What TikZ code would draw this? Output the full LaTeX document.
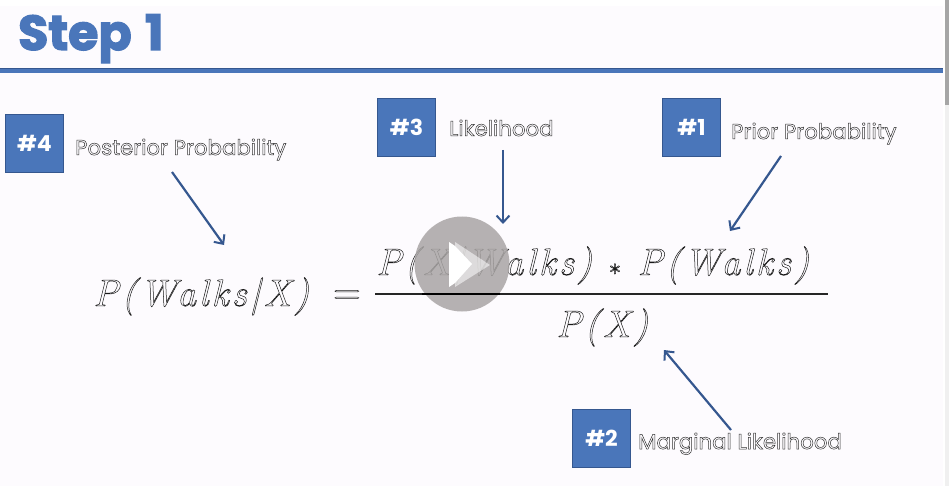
\documentclass[tikz,border=0pt]{standalone}
\usepackage{fontspec}
\setmainfont{Poppins}
\newfontfamily\eqfont[LetterSpace=8]{Latin Modern Roman}
\newcommand{\hollow}[1]{\special{pdf:code 1 Tr 0.5 w}#1\special{pdf:code 0 Tr}}
\newcommand{\heavy}[1]{\special{pdf:code 2 Tr 1.3 w}#1\special{pdf:code 0 Tr}}
\usetikzlibrary{arrows.meta}
\definecolor{stepblue}{HTML}{4A76BA}
\definecolor{edgeblue}{HTML}{35578F}
\definecolor{pagebg}{HTML}{FDFBFE}
\definecolor{playgrey}{HTML}{A9A5A5}
\tikzset{
  x=1pt,y=-1pt,
  numbox/.style={draw=edgeblue,line width=1.4pt,fill=stepblue,minimum size=58pt,inner sep=0pt,
     text=white,font=\fontsize{22}{24}\selectfont\bfseries},
  caption/.style={anchor=base west,inner sep=0pt,text=black!80,font=\fontsize{21.3}{24}\selectfont},
  eqtext/.style={inner sep=0pt,anchor=base west,text=black!90,font=\fontsize{38}{40}\selectfont\eqfont\itshape},
  pointer/.style={draw=edgeblue,line width=2.2pt,-{Straight Barb[length=7pt,width=13pt,line width=2pt]}},
}
\begin{document}
\begin{tikzpicture}
\useasboundingbox (0,0) rectangle (949,486);
\fill[white] (0,0) rectangle (949,486);
\fill[pagebg] (0,6) rectangle (943,486);
\fill[black!35] (945,0) rectangle (949,105);
\fill[black!6] (945,105) rectangle (949,486);
% title
\node[anchor=base west,inner sep=0pt,text=stepblue,font=\fontsize{49}{52}\selectfont\bfseries] (title) at (18,50) {\heavy{Step\hspace{3pt} 1}};
\fill[stepblue] (0,68) rectangle (943,73);
\draw[edgeblue,line width=1pt] (0,68.5) -- (943,68.5);
% boxes
\node[numbox] (n4) at (34.5,143.5) {\raisebox{1pt}{\#4}};
\node[numbox] (n3) at (406.5,127.5) {\raisebox{1pt}{\#3}};
\node[numbox] (n1) at (691.5,127.5) {\raisebox{1pt}{\#1}};
\node[numbox] (n2) at (601.5,438.5) {\raisebox{1pt}{\#2}};
% captions
\node[caption] (c4) at (75,155) {\hollow{Posterior Probability}};
\node[caption] (c3) at (449,136) {\hollow{Likelihood}};
\node[caption] (c1) at (731,139) {\hollow{Prior Probability}};
\node[caption] (c2) at (638,449) {\hollow{Marginal Likelihood}};
% equation
\node[eqtext] (lhs) at (93,306) {\hollow{P(Walks|X)}};
\node[eqtext,font=\fontsize{38}{40}\selectfont\eqfont] (eq) at (333,304) {\hollow{=}};
\node[eqtext] (num) at (376,275) {\hollow{P(X|Walks) $\ast$ P(Walks)}};
\node[eqtext] (den) at (556,337) {\hollow{P(X)}};
\coordinate (barl) at (375,294);
\coordinate (barr) at (828,294);
\draw[black!85,line width=1.5pt] (barl) -- (barr);
% arrows
\coordinate (a4s) at (172,172); \coordinate (a4e) at (224,245);
\coordinate (a3s) at (503,150); \coordinate (a3e) at (503,224);
\coordinate (a1s) at (781,156); \coordinate (a1e) at (730,231);
\coordinate (a2s) at (731,430); \coordinate (a2e) at (664,350);
\draw[pointer] (a4s) -- (a4e);
\draw[pointer] (a3s) -- (a3e);
\draw[pointer] (a1s) -- (a1e);
\draw[pointer] (a2s) -- (a2e);
% play button
\fill[playgrey,opacity=.85] (462,264) circle[radius=47.5];
\draw[black,line width=1.5pt] (422,294) -- (500,294);
\fill[white,opacity=.55] (455,242) -- (490,265) -- (455,287) -- cycle;
\fill[white] (449,242) -- (455,246) -- (455,283) -- (449,287) -- cycle;
\fill[white] (455,246) -- (472,264) -- (455,283) -- cycle;
\end{tikzpicture}
\end{document}
